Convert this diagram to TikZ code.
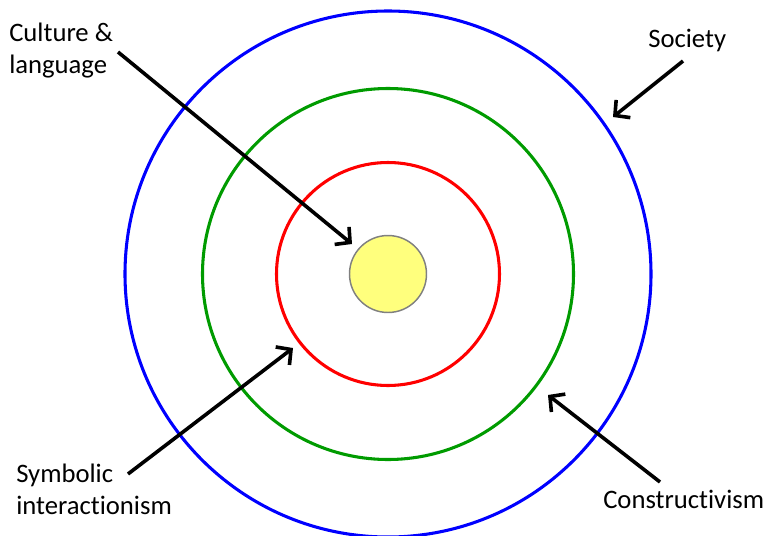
\documentclass[tikz,border=0pt]{standalone}
\usepackage{fontspec}
\setmainfont{Carlito}[Ligatures=NoCommon]
\usetikzlibrary{arrows.meta}
\definecolor{ringblue}{RGB}{0,0,255}
\definecolor{ringgreen}{RGB}{0,155,0}
\definecolor{ringred}{RGB}{255,0,0}
\definecolor{coreyellow}{RGB}{255,255,125}
\tikzset{
  ring/.style={draw, circle, line width=2.3pt, inner sep=0pt},
  pointer/.style={line width=2.7pt, -{Straight Barb[length=8pt,width=17pt]}},
  label/.style={inner sep=0pt, align=left, font=\fontsize{20pt}{23.5pt}\selectfont}
}
\begin{document}
\begin{tikzpicture}[x=0.75pt,y=-0.75pt]
\useasboundingbox (0,0) rectangle (765,536);
\coordinate (O) at (388,274);

\node[ring, ringblue, minimum size=526*0.75pt] (society) at (O) {};
\node[ring, ringgreen, minimum size=371*0.75pt] (constr) at (O) {};
\node[ring, ringred, minimum size=223*0.75pt] (symb) at (O) {};
\node[circle, draw=gray, line width=1.1pt, fill=coreyellow, minimum size=77*0.75pt, inner sep=0pt] (core) at (O) {};

% base of a two-line label is its last line
\node[label, anchor=base west] (culturelbl) at (9,73) {Culture \&\\language};
\node[label, anchor=base west] (societylbl) at (648,47) {Society};
\node[label, anchor=base west] (symblbl) at (16,514) {Symbolic\\interactionism};
\node[label, anchor=base west] (constrlbl) at (603,508) {Constructivism};

\coordinate (c1) at (118,52);
\coordinate (c2) at (352,244);
\coordinate (s1) at (683,61);
\coordinate (s2) at (613,117);
\coordinate (y1) at (128,474);
\coordinate (y2) at (293,348);
\coordinate (k1) at (660,482);
\coordinate (k2) at (548,395);

\draw[pointer] (c1) -- (c2);
\draw[pointer] (s1) -- (s2);
\draw[pointer] (y1) -- (y2);
\draw[pointer] (k1) -- (k2);
\end{tikzpicture}
\end{document}
